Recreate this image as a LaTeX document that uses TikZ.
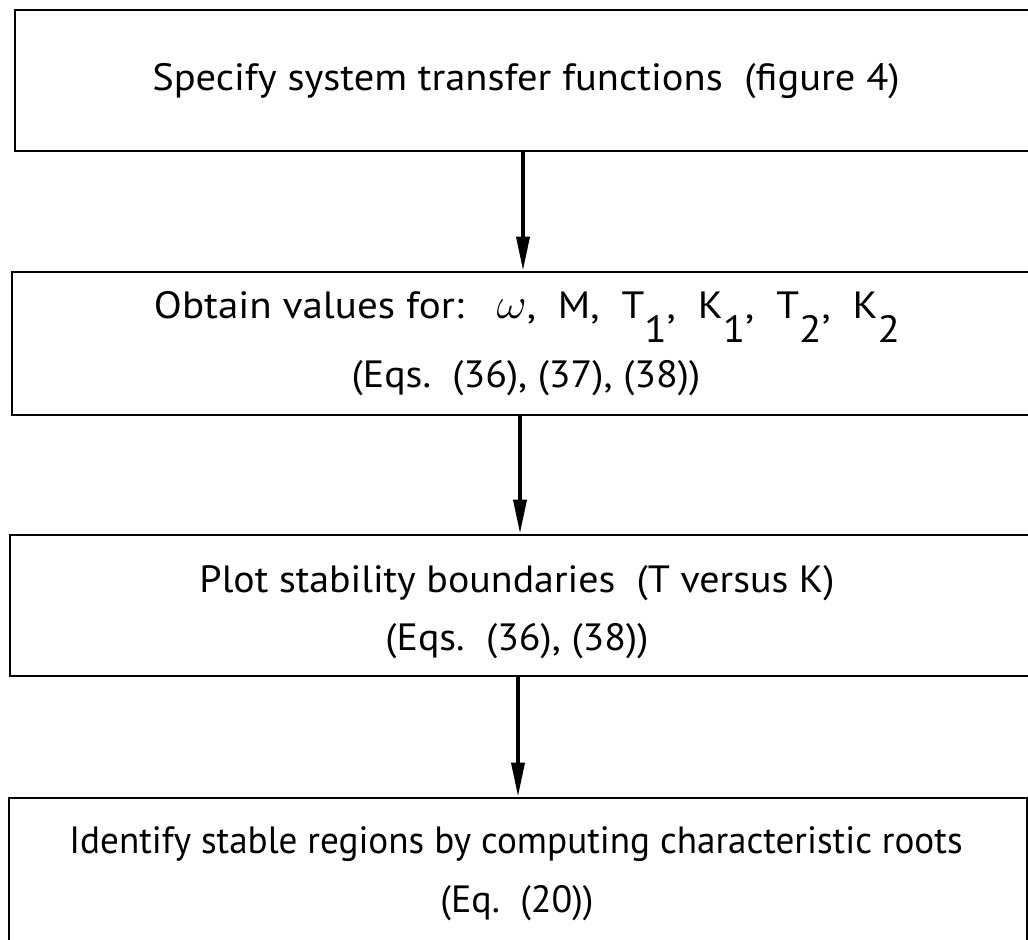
\documentclass[tikz,border=0pt]{standalone}
\usepackage{fontspec}
\usepackage{graphicx}
\setmainfont{PT Sans}
\usetikzlibrary{arrows.meta}
\newcommand{\lowsub}[1]{\raisebox{-12pt}{#1}}
\newcommand{\hs}[2]{\scalebox{#1}[1]{#2}}
\begin{document}
\begin{tikzpicture}[x=0.5pt,y=-0.5pt,
  boxline/.style={draw=black,line width=1.4pt,inner sep=0pt},
  lbl/.style={font=\fontsize{19}{23}\selectfont,inner sep=0pt,anchor=base},
  flow/.style={line width=1.8pt,-{Triangle[length=17pt,width=6.5pt]}}]
\useasboundingbox (0,0) rectangle (1028,939);
\clip (0,0) rectangle (1028,939);
\node[boxline,minimum width=512.5pt,minimum height=70.5pt] (b1) at (527.5,80.5) {};
\node[boxline,minimum width=515pt,minimum height=71.5pt] (b2) at (527,343.5) {};
\node[boxline,minimum width=510pt,minimum height=70.5pt] (b3) at (520,605.5) {};
\node[boxline,minimum width=509pt,minimum height=93.5pt] (b4) at (518,891.5) {};
\node[lbl] (t1) at (526,90) {\hs{1.065}{Specify system transfer functions\ \ (figure 4)}};
\node[lbl] (t2a) at (527,318) {\hs{1.08}{Obtain values for:\ \ \ \scalebox{1.25}{$\omega$},\ \ M,\ \ T\lowsub{1},\ \ K\lowsub{1},\ \ T\lowsub{2},\ \ K\lowsub{2}}};
\node[lbl] (t2b) at (526,387) {\hs{1.05}{(Eqs.\ \ (36),\ (37),\ (38))}};
\node[lbl] (t3a) at (517,592) {\hs{1.05}{Plot stability boundaries\ \ (T versus K)}};
\node[lbl] (t3b) at (517,650) {\hs{1.05}{(Eqs.\ \ (36),\ (38))}};
\node[lbl] (t4a) at (516,853) {\hs{0.978}{Identify stable regions by computing characteristic roots}};
\node[lbl] (t4b) at (517,912) {\hs{1.0}{(Eq.\ \ (20))}};
\draw[flow] ([xshift=-2.25pt]b1.south) -- ([xshift=-2pt]b2.north);
\draw[flow] ([xshift=-3.5pt]b2.south) -- (b3.north);
\draw[flow] ([xshift=-1pt]b3.south) -- (b4.north);
\end{tikzpicture}
\end{document}
